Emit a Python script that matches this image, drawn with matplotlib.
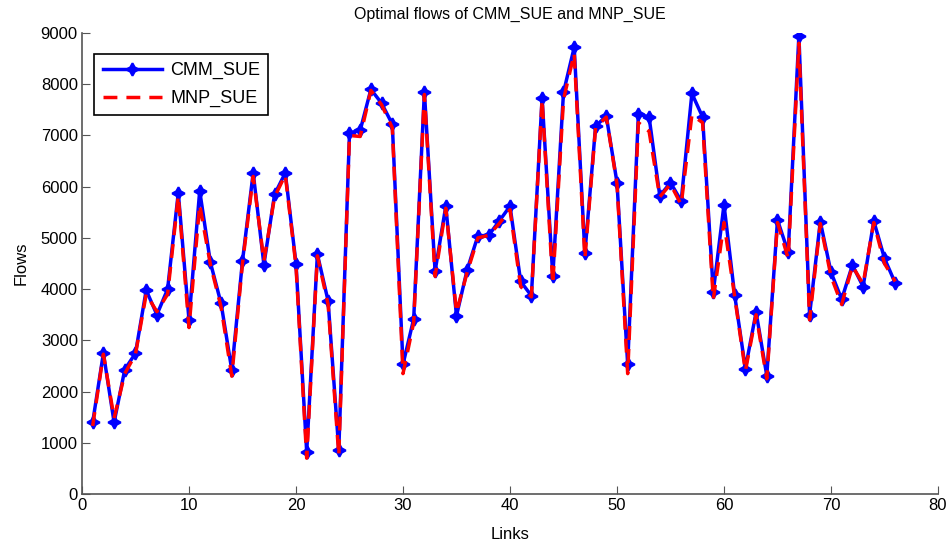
import numpy as np
import matplotlib
matplotlib.use('Agg')
import matplotlib.pyplot as plt

plt.rcParams['font.family'] = ['Liberation Sans', 'DejaVu Sans']

links = np.arange(1, 77)

cmm_sue = [1400, 2750, 1400, 2430, 2750, 3980, 3500, 4000, 5880, 3400,
           5920, 4520, 3720, 2420, 4550, 6270, 4480, 5850, 6270, 4500,
           820, 4680, 3770, 860, 7050, 7100, 7900, 7630, 7220, 2530,
           3420, 7850, 4350, 5620, 3480, 4380, 5040, 5050, 5330, 5620,
           4150, 3870, 7730, 4250, 7840, 8720, 4700, 7180, 7380, 6080,
           2530, 7420, 7360, 5820, 6080, 5720, 7820, 7360, 3950, 5650,
           3880, 2450, 3550, 2310, 5350, 4720, 8950, 3500, 5320, 4330,
           3800, 4470, 4050, 5330, 4600, 4120]

mnp_sue = [1330, 2730, 1480, 2350, 2730, 3900, 3560, 3900, 5820, 3250,
           5650, 4480, 3650, 2300, 4500, 6200, 4550, 5800, 6230, 4450,
           700, 4650, 3700, 750, 7000, 6980, 7880, 7600, 7150, 2350,
           3350, 7800, 4250, 5580, 3550, 4330, 5000, 5050, 5280, 5550,
           4050, 3850, 7700, 4100, 7700, 8600, 4600, 7150, 7360, 6050,
           2350, 7250, 7080, 5800, 6050, 5650, 7400, 7250, 3800, 5300,
           3850, 2400, 3500, 2250, 5300, 4600, 8800, 3400, 5280, 4250,
           3700, 4450, 4100, 5300, 4500, 4150]

fig = plt.figure(figsize=(9.49, 5.44), dpi=100)
ax = fig.add_axes([0.0864, 0.0919, 0.902, 0.8474])

# 4-point star to mimic the thick matlab diamond
ax.plot(links, cmm_sue, '-', marker=(4, 1, 0), color='blue', linewidth=2.5,
        markersize=9, markeredgewidth=1.5, label='CMM_SUE')
ax.plot(links, mnp_sue, '--', color='red', linewidth=2.5, dashes=(4, 2.6),
        label='MNP_SUE')

ax.set_xlim(0, 80)
ax.set_ylim(0, 9000)
ax.set_xticks(range(0, 81, 10))
ax.set_yticks(range(0, 9001, 1000))
ax.tick_params(direction='in', length=6, color='#555555', labelsize=12, pad=3)
for s in ['top', 'right']:
    ax.spines[s].set_visible(False)
for s in ['left', 'bottom']:
    ax.spines[s].set_color('#555555')
    ax.spines[s].set_linewidth(1.2)

ax.set_xlabel('Links', fontsize=12, labelpad=10)
ax.set_ylabel('Flows', fontsize=12, labelpad=9)
ax.set_title('Optimal flows of CMM_SUE and MNP_SUE', fontsize=11.5, pad=10)

leg = ax.legend(loc='upper left', bbox_to_anchor=(0.004, 0.974), fontsize=13,
                fancybox=False, framealpha=1, edgecolor='black',
                handlelength=3.3, handletextpad=0.45, borderpad=0.45,
                labelspacing=0.6)
leg.get_frame().set_linewidth(1.2)

fig.savefig('out.png', dpi=100)
